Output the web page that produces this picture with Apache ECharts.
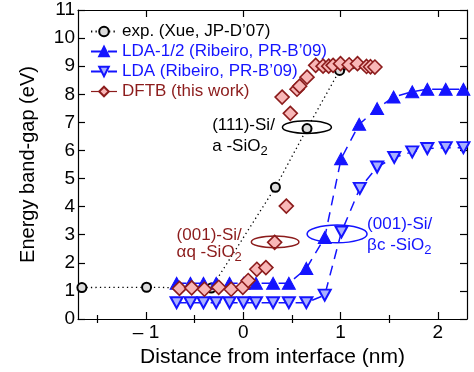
<!DOCTYPE html>
<html>
<head>
<meta charset="utf-8">
<script src="https://cdn.jsdelivr.net/npm/echarts@6/dist/echarts.min.js"></script>
<style>
html, body { margin: 0; padding: 0; background: #fff; }
#gap { width: 474px; height: 372px; }
</style>
</head>
<body>
<div id="gap"></div>
<script>
// values (x in nm, y in eV)
var expX = [-1.66, -0.995, -0.33, 0.33, 0.655, 0.99, 1.27];
var expY = [1.12, 1.13, 1.10, 4.69, 6.78, 8.85, 8.98];

var lda12X = [-0.686, -0.544, -0.41, -0.279, -0.142, 0.002, 0.13, 0.306, 0.468, 0.648,
              0.837, 1.005, 1.191, 1.376, 1.545, 1.737, 1.892, 2.081, 2.263];
var lda12Y = [1.27, 1.27, 1.27, 1.27, 1.27, 1.27, 1.27, 1.27, 1.27, 1.80,
              2.90, 5.70, 6.93, 7.49, 7.90, 8.09, 8.18, 8.18, 8.18];

var ldaX = [-0.686, -0.544, -0.41, -0.279, -0.142, 0.002, 0.13, 0.306, 0.468, 0.648,
            0.837, 1.009, 1.198, 1.376, 1.552, 1.737, 1.892, 2.081, 2.263];
var ldaY = [0.58, 0.58, 0.58, 0.58, 0.58, 0.58, 0.58, 0.58, 0.58, 0.58,
            0.85, 3.10, 4.65, 5.41, 5.75, 5.95, 6.07, 6.10, 6.10];

var dftbX = [-0.657, -0.531, -0.40, -0.253, -0.125, -0.005, 0.05, 0.139, 0.232, 0.322,
             0.442, 0.483, 0.399, 0.552, 0.579, 0.655, 0.744, 0.82, 0.878, 0.923,
             0.999, 1.088, 1.174, 1.267, 1.308, 1.353];
var dftbY = [1.09, 1.11, 1.06, 1.13, 1.06, 1.13, 1.37, 1.77, 1.83, 2.73,
             4.02, 7.32, 7.90, 8.18, 8.29, 8.61, 9.03, 9.00, 9.00, 9.03,
             9.09, 9.05, 9.09, 8.99, 8.98, 8.97];

var xMajor = [-1, 0, 1, 2];
var xMinor = [-1.5, -0.5, 0.5, 1.5];

var names = ['exp. (Xue, JP-D\u201907)', 'LDA-1/2 (Ribeiro, PR-B\u201909)',
             'LDA (Ribeiro, PR-B\u201909)', 'DFTB (this work)'];

var FONT = '"Liberation Sans", Arial, Helvetica, sans-serif';
var BLUE = '#1414ff';
var DARKRED = '#8c1c1c';

function pairs(xs, ys) {
  return xs.map(function (x, i) { return [x, ys[i]]; });
}

var axisLine = { show: true, onZero: false, lineStyle: { color: '#000', width: 1.2 } };
var tickStyle = { color: '#000', width: 1.2 };

function xAx(pos, ticks, len, withLabels) {
  var a = {
    type: 'value', min: -1.7, max: 2.3, position: pos,
    axisLine: withLabels !== null ? axisLine : { show: false },
    axisTick: { show: true, inside: true, length: len, customValues: ticks, lineStyle: tickStyle },
    axisLabel: { show: false },
    splitLine: { show: false }
  };
  if (withLabels) {
    a.axisLabel = {
      show: true, customValues: ticks, fontSize: 19, color: '#000', fontFamily: FONT, margin: 4,
      formatter: function (v) { return v < 0 ? '\u2013 ' + Math.abs(v) : String(v); }
    };
    a.name = 'Distance from interface (nm)';
    a.nameLocation = 'middle';
    a.nameGap = 23;
    a.nameTextStyle = { fontSize: 21, color: '#000', fontFamily: FONT };
  }
  return a;
}

var chart = echarts.init(document.getElementById('gap'));

chart.setOption({
  animation: false,
  grid: { left: 78, right: 7, top: 10, bottom: 53, containLabel: false, outerBoundsMode: 'none' },
  legend: {
    orient: 'vertical', left: 90, top: 23, padding: 0,
    itemWidth: 26, itemHeight: 12, itemGap: 3,
    textStyle: { fontSize: 17, fontFamily: FONT },
    data: [
      { name: names[0], textStyle: { color: '#000' } },
      { name: names[1], textStyle: { color: BLUE } },
      { name: names[2], textStyle: { color: BLUE } },
      { name: names[3], textStyle: { color: DARKRED },
        lineStyle: { color: DARKRED, width: 1.2, opacity: 1, type: 'solid' } }
    ]
  },
  xAxis: [
    xAx('bottom', xMajor, 7, true),
    xAx('bottom', xMinor, 4, null),
    xAx('top', xMajor, 7, false),
    xAx('top', xMinor, 4, null)
  ],
  yAxis: [
    {
      type: 'value', min: 0, max: 11, interval: 1, position: 'left',
      axisLine: axisLine,
      axisTick: { inside: true, length: 7, lineStyle: tickStyle },
      axisLabel: { fontSize: 19, color: '#000', fontFamily: FONT, margin: 3 },
      splitLine: { show: false },
      name: 'Energy band-gap (eV)', nameLocation: 'middle', nameGap: 40, nameRotate: 90,
      nameTextStyle: { fontSize: 20, color: '#000', fontFamily: FONT }
    },
    {
      type: 'value', min: 0, max: 11, interval: 1, position: 'right',
      axisLine: axisLine,
      axisTick: { inside: true, length: 7, lineStyle: tickStyle },
      axisLabel: { show: false },
      splitLine: { show: false }
    }
  ],
  series: [
    {
      name: names[0], type: 'line', data: pairs(expX, expY),
      symbol: 'circle', symbolSize: 9,
      lineStyle: { color: '#000', width: 1.3, type: [1.3, 3.2] },
      itemStyle: { color: '#dcdcdc', borderColor: '#000', borderWidth: 2 },
      z: 2
    },
    {
      name: names[1], type: 'line', data: pairs(lda12X, lda12Y),
      symbol: 'triangle', symbolSize: [13, 12],
      lineStyle: { color: BLUE, width: 1.5, type: [10, 7] },
      itemStyle: { color: BLUE, borderColor: BLUE, borderWidth: 1 },
      z: 3
    },
    {
      name: names[2], type: 'line', data: pairs(ldaX, ldaY),
      symbol: 'path://M0,0L2,0L1,1.732Z', symbolSize: [12, 11],
      lineStyle: { color: BLUE, width: 1.5, type: [10, 7] },
      itemStyle: { color: '#a9b0ff', borderColor: BLUE, borderWidth: 2 },
      z: 3
    },
    {
      name: names[3], type: 'line', data: pairs(dftbX, dftbY),
      symbol: 'diamond', symbolSize: 14,
      lineStyle: { color: DARKRED, width: 1, opacity: 0 },
      itemStyle: { color: '#f8b7b7', borderColor: DARKRED, borderWidth: 1.6 },
      z: 4
    }
  ]
});

// annotations, anchored in data space
function px(x, y) {
  return chart.convertToPixel({ xAxisIndex: 0, yAxisIndex: 0 }, [x, y]);
}

var notes = [
  { x: -0.32, y1: 6.90, y2: 6.13, top: '(111)-Si/', bot: 'a -SiO', color: '#000' },
  { x: -0.686, y1: 2.97, y2: 2.36, top: '(001)-Si/', bot: '\u03b1q -SiO', color: DARKRED },
  { x: 1.273, y1: 3.38, y2: 2.63, top: '(001)-Si/', bot: '\u03b2c -SiO', color: BLUE }
];
var rings = [
  { x: 0.654, y: 6.83, rx: 24.5, ry: 6.3, color: '#000' },
  { x: 0.327, y: 2.745, rx: 23.8, ry: 5.8, color: DARKRED },
  { x: 0.964, y: 3.03, rx: 30, ry: 8.8, color: BLUE }
];

var els = [];
notes.forEach(function (n) {
  var p1 = px(n.x, n.y1), p2 = px(n.x, n.y2);
  els.push({
    type: 'text', x: p1[0], y: p1[1], z: 10,
    style: { text: n.top, fill: n.color, fontSize: 17, fontFamily: FONT, align: 'left', verticalAlign: 'middle' }
  });
  els.push({
    type: 'text', x: p2[0], y: p2[1], z: 10,
    style: {
      text: n.bot + '{s|2}', fill: n.color, fontSize: 17, fontFamily: FONT, align: 'left', verticalAlign: 'middle',
      rich: { s: { fontSize: 13, fontFamily: FONT, fill: n.color, padding: [10, 0, 0, 0] } }
    }
  });
});
rings.forEach(function (r) {
  var c = px(r.x, r.y);
  els.push({
    type: 'ellipse', z: 10,
    shape: { cx: c[0], cy: c[1], rx: r.rx, ry: r.ry },
    style: { fill: 'none', stroke: r.color, lineWidth: 1.5 }
  });
});

chart.setOption({ graphic: { elements: els } });

window.addEventListener('resize', function () { chart.resize(); });
</script>
</body>
</html>
